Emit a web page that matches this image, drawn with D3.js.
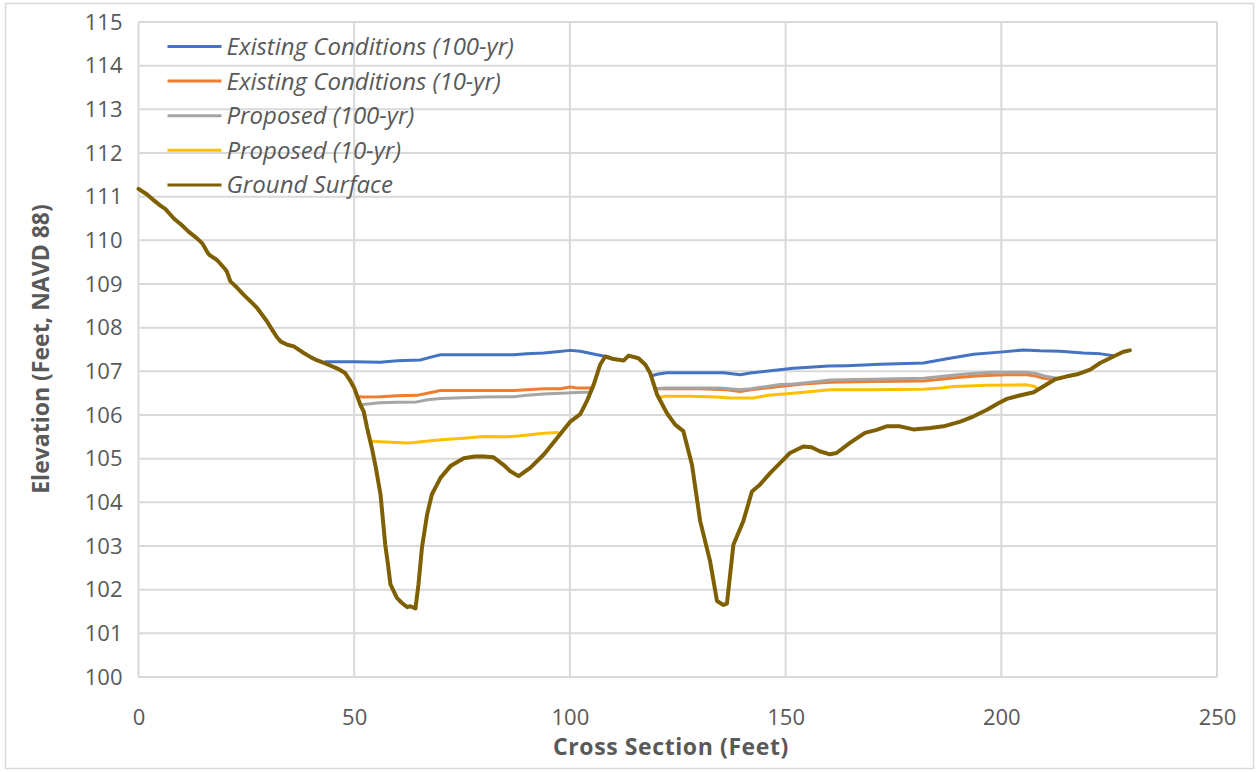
<!DOCTYPE html>
<html>
<head>
<meta charset="utf-8">
<script src="https://cdn.jsdelivr.net/npm/d3@7/dist/d3.min.js"></script>
<style>
  html, body { margin: 0; padding: 0; background: #fff; }
  svg { display: block; font-family: "Open Sans", "Noto Sans", sans-serif; }
</style>
</head>
<body>
<svg id="chart" width="1259" height="772"></svg>
<script>
// Station (ft) and elevation (ft, NAVD 88) pairs for each profile.
const groundSurface = [
  [0,111.18],[2,111.05],[3.5,110.92],[5,110.8],[6.2,110.72],[8.2,110.5],[10,110.35],[11.6,110.2],
  [13.5,110.05],[14.8,109.93],[16,109.72],[16.5,109.66],[18.2,109.55],[20,109.35],[20.5,109.28],
  [21.3,109.06],[22.5,108.95],[24.4,108.75],[26,108.6],[27.5,108.45],[29.8,108.14],[31,107.95],
  [32.1,107.78],[33,107.68],[34.5,107.61],[36,107.57],[38.3,107.42],[40,107.32],[41,107.27],
  [43.3,107.18],[46,107.07],[47.9,106.96],[49,106.8],[50,106.62],[51.4,106.24],[52.2,106.08],
  [53,105.7],[54.1,105.24],[55,104.8],[56.1,104.18],[57.2,103.03],[57.8,102.6],[58.4,102.12],
  [59.9,101.81],[61,101.7],[62.3,101.6],[63,101.62],[64.2,101.57],[64.9,102.12],[65.7,102.96],
  [66.9,103.72],[68,104.18],[70,104.56],[72.3,104.83],[75.4,105.01],[78,105.05],[80,105.05],
  [82.3,105.03],[84.6,104.86],[86.2,104.71],[88.1,104.6],[90.8,104.79],[93.9,105.09],[97,105.47],
  [100.1,105.85],[102.4,106.02],[103.9,106.31],[105.5,106.69],[107,107.15],[108.2,107.34],
  [110.1,107.28],[112.5,107.25],[113.6,107.36],[115.9,107.3],[117.5,107.15],[118.6,106.96],
  [120.2,106.47],[122.5,106.04],[124.4,105.78],[126.3,105.63],[128.3,104.86],[130.2,103.57],
  [132.5,102.65],[134.1,101.74],[135.6,101.65],[136.4,101.68],[137.9,103.03],[140.2,103.57],
  [142.2,104.25],[144.1,104.41],[146.4,104.67],[148.7,104.9],[151,105.13],[154.1,105.28],
  [156,105.26],[157.9,105.17],[160.3,105.1],[161.8,105.13],[164.9,105.36],[168.4,105.59],
  [171.1,105.66],[173.4,105.74],[176.5,105.74],[179.6,105.67],[183.5,105.7],[186.6,105.74],
  [190.5,105.85],[193.6,105.97],[196.7,106.12],[199.3,106.27],[201.3,106.37],[204,106.44],
  [207.5,106.52],[209.8,106.66],[212.5,106.82],[215,106.88],[217.9,106.94],[220.6,107.04],
  [222.9,107.19],[226,107.34],[228.3,107.45],[229.8,107.48]
];

// Water surfaces; null marks the break where the centre berm is dry.
const existing100 = [
  [43.3,107.22],[50,107.22],[56,107.21],[60,107.24],[65.3,107.26],[68,107.33],[70,107.38],
  [80,107.38],[87,107.38],[90,107.4],[93.9,107.42],[97,107.45],[100.1,107.48],[102.4,107.46],
  [106.3,107.38],[109.4,107.32],
  null,
  [118.9,106.9],[120.5,106.94],[122.5,106.97],[130,106.97],[135.6,106.97],[139.5,106.92],
  [141.8,106.96],[146,107.01],[151.8,107.07],[156.4,107.1],[160,107.12],[164.2,107.13],
  [171.9,107.16],[182,107.19],[187.4,107.29],[193.6,107.39],[199.7,107.44],[205.1,107.49],
  [209,107.47],[213.6,107.46],[219,107.42],[223,107.4],[226,107.36]
];

const existing10 = [
  [51.3,106.42],[52.2,106.41],[56,106.42],[60,106.44],[64.5,106.45],[67,106.5],[70,106.56],
  [80,106.56],[87,106.56],[90,106.58],[93.9,106.6],[97.8,106.6],[100.1,106.64],[101.6,106.62],
  [104.7,106.62],
  null,
  [119.6,106.6],[122,106.6],[130,106.6],[136.4,106.58],[139.5,106.54],[142,106.58],
  [148.7,106.65],[154,106.71],[160.3,106.75],[170,106.77],[182,106.78],[186,106.82],
  [189.7,106.86],[195.1,106.9],[201.3,106.92],[205.9,106.92],[208,106.89],[209.8,106.84],
  [212.1,106.81]
];

const proposed100 = [
  [52,106.24],[56,106.28],[60,106.29],[64.5,106.3],[67,106.35],[70,106.38],[80,106.41],
  [87,106.42],[90,106.45],[93.9,106.48],[97.8,106.5],[103.1,106.52],[104.2,106.52],
  null,
  [119.7,106.6],[122,106.62],[130,106.62],[134.9,106.62],[139.5,106.58],[142,106.6],
  [148.7,106.7],[151.8,106.71],[156,106.75],[160.3,106.8],[170,106.82],[182,106.84],
  [186,106.88],[189.7,106.92],[195,106.96],[198.2,106.98],[205.9,106.98],[208,106.95],
  [210.6,106.88],[212.9,106.84]
];

const proposed10 = [
  [54,105.4],[56,105.39],[59.9,105.37],[62.3,105.36],[64,105.37],[67.7,105.41],[71,105.44],
  [75.4,105.47],[80,105.51],[85.4,105.5],[88,105.52],[90.8,105.55],[94,105.58],[97.2,105.6],
  null,
  [120.8,106.4],[122,106.43],[127.9,106.43],[134.1,106.41],[137,106.39],[142.5,106.39],
  [146,106.45],[151.8,106.5],[156,106.54],[160.3,106.58],[170,106.58],[182,106.59],
  [186,106.62],[189,106.65],[196.7,106.68],[205.9,106.69],[207.5,106.66],[208.6,106.6]
];

const seriesNames = [
  "Existing Conditions (100-yr)",
  "Existing Conditions (10-yr)",
  "Proposed (100-yr)",
  "Proposed (10-yr)",
  "Ground Surface"
];
const seriesData = [existing100, existing10, proposed100, proposed10, groundSurface];
const seriesColors = ["#4472C4", "#ED7D31", "#A5A5A5", "#FFC000", "#7F6000"];

const xTicks = [0, 50, 100, 150, 200, 250];
const yTicks = [100, 101, 102, 103, 104, 105, 106, 107, 108, 109, 110, 111, 112, 113, 114, 115];

const xTitle = "Cross Section (Feet)";
const yTitle = "Elevation (Feet, NAVD 88)";

// ---- layout ----
const plot = { left: 138.5, right: 1217, top: 22, bottom: 677 };
const textColor = "#595959";
const gridColor = "#D9D9D9";

const svg = d3.select("#chart");

// outer chart frame
svg.append("rect")
  .attr("x", 5.5).attr("y", 3.5)
  .attr("width", 1248).attr("height", 765)
  .attr("fill", "#fff")
  .attr("stroke", "#D9D9D9").attr("stroke-width", 1.5);

const x = d3.scaleLinear().domain([0, 250]).range([plot.left, plot.right]);
const y = d3.scaleLinear().domain([100, 115]).range([plot.bottom, plot.top]);

// gridlines
const grid = svg.append("g");
grid.selectAll("line.h").data(yTicks).join("line")
  .attr("x1", plot.left).attr("x2", plot.right)
  .attr("y1", d => y(d)).attr("y2", d => y(d))
  .attr("stroke", gridColor).attr("stroke-width", 2);
grid.selectAll("line.v").data(xTicks).join("line")
  .attr("y1", plot.top).attr("y2", plot.bottom)
  .attr("x1", d => x(d)).attr("x2", d => x(d))
  .attr("stroke", gridColor).attr("stroke-width", 2);

// axes with labels only (lines come from the grid)
const xAxis = d3.axisBottom(x).tickValues(xTicks).tickSize(0).tickPadding(28);
const yAxis = d3.axisLeft(y).tickValues(yTicks).tickSize(0).tickPadding(16);

const gx = svg.append("g").attr("transform", `translate(0,${plot.bottom})`).call(xAxis);
const gy = svg.append("g").attr("transform", `translate(${plot.left},0)`).call(yAxis);
[gx, gy].forEach(g => {
  g.select(".domain").remove();
  g.selectAll("text")
    .attr("fill", textColor)
    .style("font-size", "22px")
    .style("font-family", "'Open Sans', sans-serif");
});
gx.selectAll("text").attr("dy", "0.32em").attr("y", 41);

// axis titles
svg.append("text")
  .attr("x", 671).attr("y", 755)
  .attr("text-anchor", "middle")
  .attr("fill", textColor)
  .style("font-size", "23px").style("font-weight", "bold")
  .style("letter-spacing", "0.6px")
  .text(xTitle);

svg.append("text")
  .attr("transform", `translate(49,${(205 + 493) / 2}) rotate(-90)`)
  .attr("text-anchor", "middle")
  .attr("fill", textColor)
  .style("font-size", "23px").style("font-weight", "bold")
  .text(yTitle);

// profile lines
const line = d3.line()
  .defined(d => d !== null)
  .x(d => x(d[0]))
  .y(d => y(d[1]));

svg.append("g").selectAll("path")
  .data(seriesData)
  .join("path")
  .attr("d", d => line(d))
  .attr("fill", "none")
  .attr("stroke", (d, i) => seriesColors[i])
  .attr("stroke-width", (d, i) => i === 4 ? 4 : 3)
  .attr("stroke-linejoin", "round")
  .attr("stroke-linecap", "round");

// legend
const legend = svg.append("g").attr("transform", "translate(167.5,46.5)");
const rows = legend.selectAll("g").data(seriesNames).join("g")
  .attr("transform", (d, i) => `translate(0,${i * 34.6})`);
rows.append("line")
  .attr("x1", 0).attr("x2", 54).attr("y1", 0).attr("y2", 0)
  .attr("stroke", (d, i) => seriesColors[i])
  .attr("stroke-width", 3);
rows.append("text")
  .attr("x", 59).attr("y", 0).attr("dy", "0.35em")
  .attr("fill", textColor)
  .style("font-size", "24px").style("font-style", "italic")
  .text(d => d);
</script>
</body>
</html>
